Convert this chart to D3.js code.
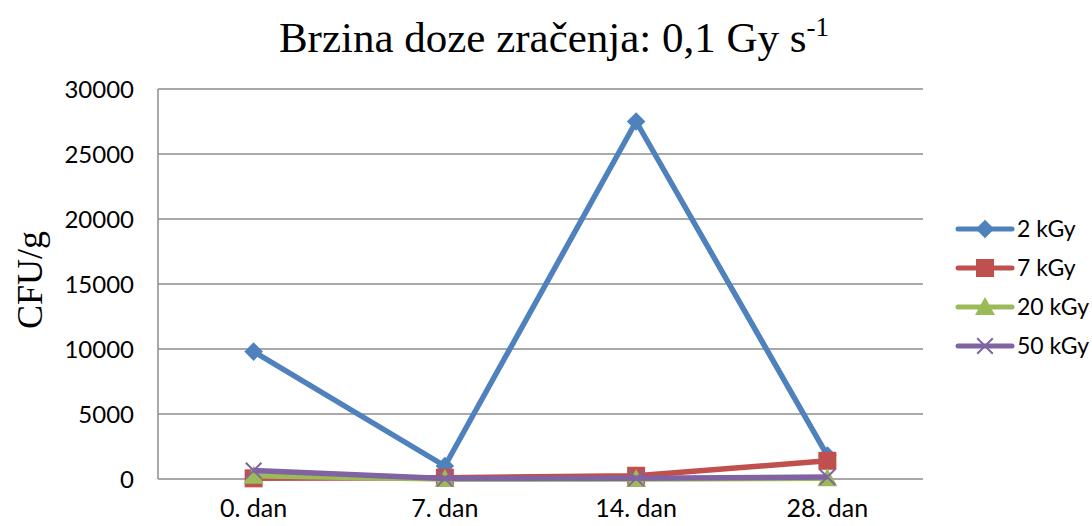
<!DOCTYPE html>
<html>
<head>
<meta charset="utf-8">
<title>Brzina doze zracenja</title>
<script src="https://cdn.jsdelivr.net/npm/d3@7"></script>
<style>
  body { margin: 0; background: #fff; }
  text { font-family: Lato, "Open Sans", sans-serif; }
</style>
</head>
<body>
<svg width="1092" height="526"></svg>
<script>
// data
var days = ["0. dan", "7. dan", "14. dan", "28. dan"];
var seriesNames = ["2 kGy", "7 kGy", "20 kGy", "50 kGy"];
var v2kGy = [9800, 1000, 27500, 1800];
var v7kGy = [50, 100, 250, 1400];
var v20kGy = [250, 0, 0, 50];
var v50kGy = [650, 30, 50, 150];
var yTicks = [0, 5000, 10000, 15000, 20000, 25000, 30000];

var colors = ["#4F81BD", "#C0504D", "#9BBB59", "#8064A2"];
var symbols = ["diamond", "square", "triangle", "x"];
var allSeries = [v2kGy, v7kGy, v20kGy, v50kGy];

var marge = {top: 89, left: 158, right: 169, bottom: 47};
var W = 1092, H = 526;
var svg = d3.select("svg");

var x = d3.scaleBand().domain(days).range([marge.left, W - marge.right]);
var y = d3.scaleLinear().domain([0, 30000]).range([H - marge.bottom, marge.top]);

// gridlines
svg.append("g").selectAll("line")
  .data(yTicks)
  .enter().append("line")
  .attr("x1", marge.left).attr("x2", W - marge.right)
  .attr("y1", function(d){ return y(d); }).attr("y2", function(d){ return y(d); })
  .style("stroke", "#8c8c8c").style("stroke-width", 1.5);

// left axis line
svg.append("line")
  .attr("x1", marge.left).attr("x2", marge.left)
  .attr("y1", y(30000)).attr("y2", y(0))
  .style("stroke", "#8c8c8c").style("stroke-width", 1.5);

// y tick labels
svg.append("g").selectAll("text")
  .data(yTicks)
  .enter().append("text")
  .attr("x", marge.left - 24)
  .attr("y", function(d){ return y(d); })
  .attr("dy", "0.36em")
  .attr("text-anchor", "end")
  .style("font-size", "24px")
  .text(function(d){ return d; });

// x tick labels
svg.append("g").selectAll("text")
  .data(days)
  .enter().append("text")
  .attr("x", function(d){ return x(d) + x.bandwidth() / 2; })
  .attr("y", y(0) + 38)
  .attr("text-anchor", "middle")
  .style("font-size", "25px")
  .text(function(d){ return d; });

// title
var title = svg.append("text")
  .attr("x", 554).attr("y", 52)
  .attr("text-anchor", "middle")
  .style("font-family", "'Liberation Serif', 'Times New Roman', serif")
  .style("font-size", "43px");
title.append("tspan").text("Brzina doze zračenja: 0,1 Gy s");
title.append("tspan").attr("dy", -16).style("font-size", "27px").text("-1");

// y axis title
svg.append("text")
  .attr("transform", "translate(42," + (y(15000) - 4) + ") rotate(-90)")
  .attr("text-anchor", "middle")
  .style("font-family", "'Liberation Serif', 'Times New Roman', serif")
  .style("font-size", "36px")
  .text("CFU/g");

function markerPath(sym) {
  if (sym == "diamond") return d3.symbol().type(d3.symbolDiamond2).size(220)();
  if (sym == "square") return "M-9,-9H9V9H-9Z";
  if (sym == "triangle") return "M0,-10L10,8H-10Z";
  return d3.symbol().type(d3.symbolX).size(160)();
}

var line = d3.line()
  .x(function(d, i){ return x(days[i]) + x.bandwidth() / 2; })
  .y(function(d){ return y(d); });

allSeries.forEach(function(vals, s) {
  var g = svg.append("g");
  g.append("path")
    .attr("d", line(vals))
    .style("fill", "none")
    .style("stroke", colors[s])
    .style("stroke-width", 5.5)
    .style("stroke-linejoin", "round");
  g.selectAll("path.mk")
    .data(vals)
    .enter().append("path")
    .attr("class", "mk")
    .attr("transform", function(d, i){ return "translate(" + (x(days[i]) + x.bandwidth() / 2) + "," + y(d) + ")"; })
    .attr("d", markerPath(symbols[s]))
    .style("fill", symbols[s] == "x" ? "none" : colors[s])
    .style("stroke", colors[s])
    .style("stroke-width", symbols[s] == "x" ? 2 : 0);
});

// legend
var leg = svg.append("g").selectAll("g")
  .data(seriesNames)
  .enter().append("g")
  .attr("transform", function(d, i){ return "translate(958," + (229 + i * 39) + ")"; });
leg.append("line")
  .attr("x1", 0).attr("x2", 54)
  .style("stroke", function(d, i){ return colors[i]; })
  .style("stroke-width", 5)
  .style("stroke-linecap", "round");
leg.append("path")
  .attr("transform", "translate(27,0)")
  .attr("d", function(d, i){ return markerPath(symbols[i]); })
  .style("fill", function(d, i){ return symbols[i] == "x" ? "none" : colors[i]; })
  .style("stroke", function(d, i){ return colors[i]; })
  .style("stroke-width", function(d, i){ return symbols[i] == "x" ? 2 : 0; });
leg.append("text")
  .attr("x", 59)
  .attr("dy", "0.36em")
  .style("font-size", "23px")
  .text(function(d){ return d; });
</script>
</body>
</html>
